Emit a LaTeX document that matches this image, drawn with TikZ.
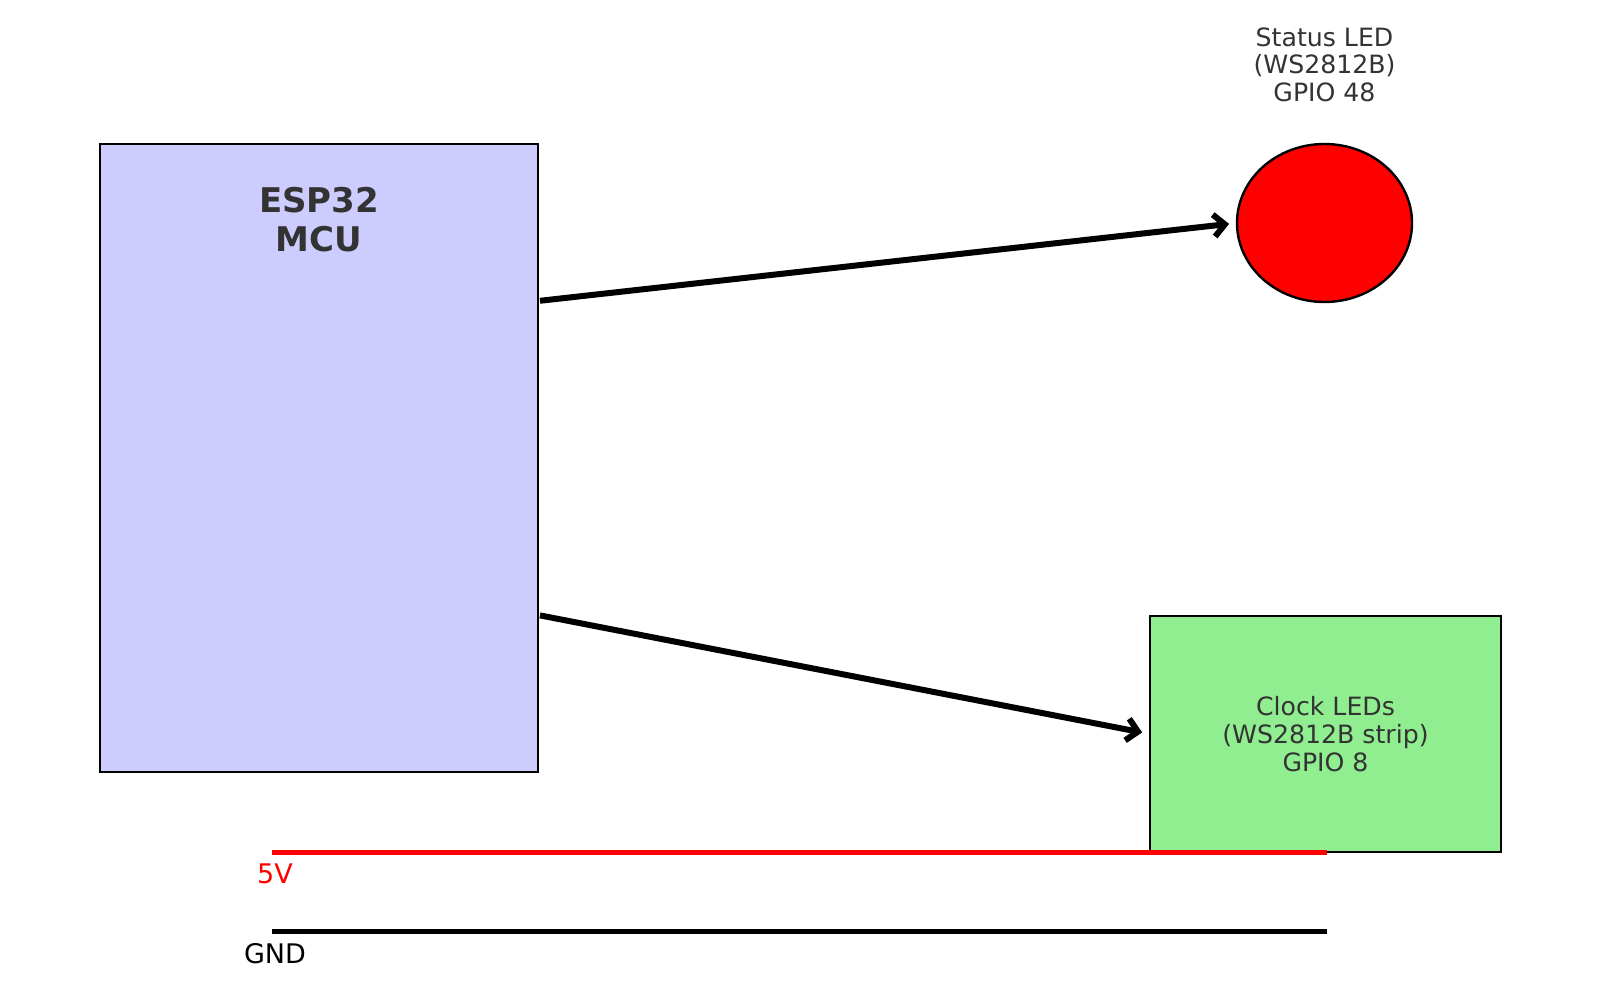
\documentclass[tikz,border=0pt]{standalone}
\usepackage{fontspec}
\setmainfont{DejaVu Sans}
\usetikzlibrary{positioning,shapes.geometric,arrows.meta,calc}

\definecolor{mcublue}{HTML}{CCCCFF}
\definecolor{ledgreen}{HTML}{90EE90}
\definecolor{textgray}{HTML}{333333}

\tikzset{
    block/.style={draw, line width=1.2pt, inner sep=0pt, outer sep=0pt},
    caption/.style={text=textgray, align=center, inner sep=0pt, font=\fontsize{12.6}{13.8}\selectfont},
    railtext/.style={inner sep=0pt, font=\fontsize{13.5}{16}\selectfont},
    signal/.style={line width=3pt, -{Straight Barb[length=5.5pt,width=11pt]}, shorten >=4pt, shorten <=1pt},
    rail/.style={line width=2.5pt},
}

\begin{document}
\begin{tikzpicture}[x=0.5pt, y=-0.5pt]
    \useasboundingbox (0,0) rectangle (1600,1000);

    % mcu
    \node[block, fill=mcublue, minimum width=219pt, minimum height=314pt] (mcu) at (319,458) {};
    \node[caption, font=\bfseries\fontsize{17}{19.5}\selectfont, below=21.5pt of mcu.north] (mcu label) {ESP32\\MCU};
    \coordinate (mcu out1) at ($(mcu.north east)!0.25!(mcu.south east)$);
    \coordinate (mcu out2) at ($(mcu.north east)!0.75!(mcu.south east)$);

    % status led
    \node[block, ellipse, fill=red, minimum width=87.5pt, minimum height=79pt] (led) at (1324.5,223) {};
    \node[caption, above=21pt of led] (led label) {Status LED\\(WS2812B)\\GPIO 48};

    % clock strip
    \node[block, caption, fill=ledgreen, minimum width=175.5pt, minimum height=118pt] (clock) at (1325.5,734) {Clock LEDs\\(WS2812B strip)\\GPIO 8};

    % data lines
    \draw[signal] (mcu out1) -- (led.west);
    \draw[signal] (mcu out2) -- (clock.west);

    % power rails
    \coordinate (v5 start) at (272,852);
    \coordinate (v5 end) at (1327,852);
    \coordinate (gnd start) at (272,931);
    \coordinate (gnd end) at (1327,931);
    \draw[rail, red] (v5 start) -- (v5 end);
    \draw[rail] (gnd start) -- (gnd end);
    \node[railtext, text=red, below=5.5pt of v5 start, xshift=1.5pt] (v5 label) {5V};
    \node[railtext, below=6pt of gnd start, xshift=1.5pt] (gnd label) {GND};
\end{tikzpicture}
\end{document}
